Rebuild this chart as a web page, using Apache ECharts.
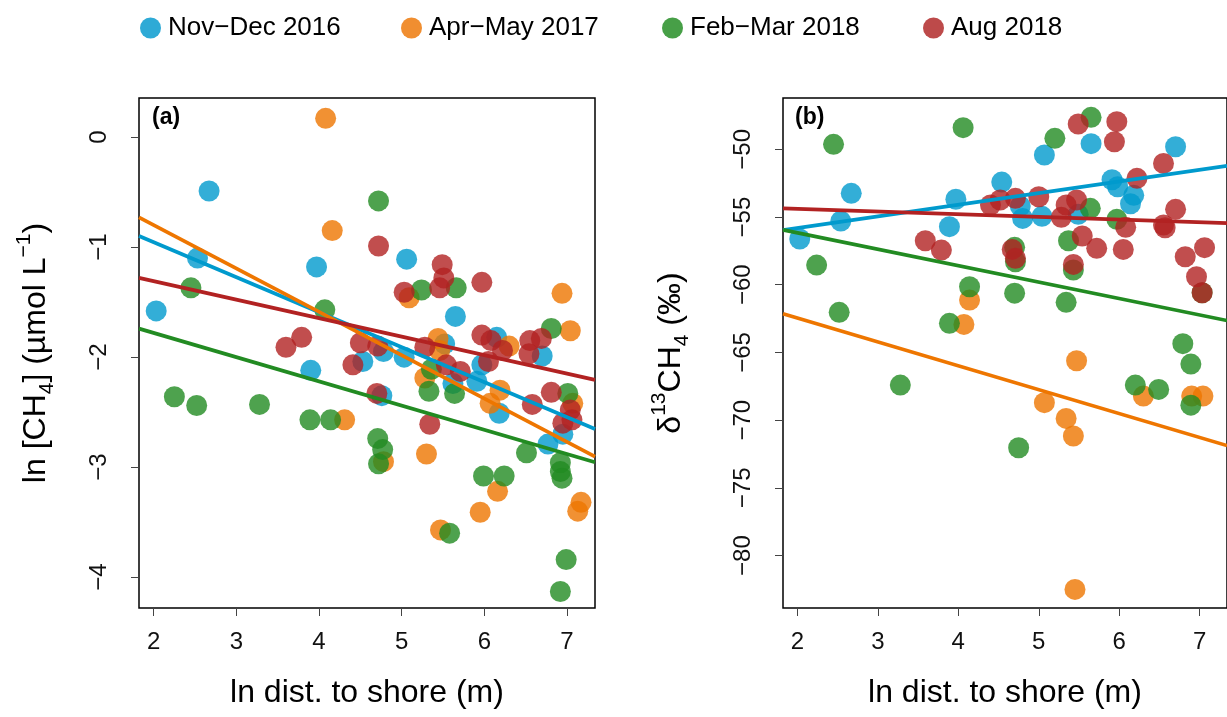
<!DOCTYPE html>
<html>
<head>
<meta charset="utf-8">
<script src="https://cdn.jsdelivr.net/npm/echarts@6/dist/echarts.min.js"></script>
<style>
  html, body { margin: 0; padding: 0; background: #fff; }
  #chart { width: 1227px; height: 717px; }
</style>
</head>
<body>
<div id="chart"></div>
<script>
// sampling campaigns
const campaigns = ['Nov−Dec 2016', 'Apr−May 2017', 'Feb−Mar 2018', 'Aug 2018'];
const baseColors = ['#009ACD', '#EE7600', '#228B22', '#B22222'];
const legendColors = ['#2eaad6', '#f08e30', '#479f47', '#bd4a4a'];

// axis ticks
const xTicks = [2, 3, 4, 5, 6, 7];
const yTicksA = [0, -1, -2, -3, -4];
const yTicksB = [-50, -55, -60, -65, -70, -75, -80];

// (a) ln [CH4] vs ln distance to shore
const ch4Nov16 = [[2.03,-1.58],[2.53,-1.10],[2.67,-0.49],[3.90,-2.12],[3.97,-1.18],[4.53,-2.04],[4.76,-2.35],[4.78,-1.95],[5.03,-2.00],[5.06,-1.11],[5.52,-1.88],[5.62,-2.24],[5.65,-1.63],[5.91,-2.22],[5.97,-2.07],[6.15,-1.82],[6.18,-2.51],[6.70,-1.99],[6.77,-2.79],[6.95,-2.70]];
const ch4Apr17 = [[4.08,0.17],[4.16,-0.85],[4.31,-2.57],[4.78,-2.95],[5.09,-1.46],[5.28,-2.19],[5.30,-2.88],[5.44,-1.83],[5.46,-1.94],[5.47,-3.57],[5.95,-3.41],[6.07,-2.42],[6.16,-3.22],[6.19,-2.30],[6.30,-1.90],[6.94,-1.42],[7.04,-1.76],[7.07,-2.42],[7.13,-3.40],[7.17,-3.32]];
const ch4Feb18 = [[2.25,-2.36],[2.45,-1.37],[2.52,-2.44],[3.28,-2.43],[3.89,-2.57],[4.07,-1.57],[4.14,-2.57],[4.72,-0.58],[4.71,-2.74],[4.77,-2.84],[4.72,-2.97],[5.24,-1.39],[5.36,-2.11],[5.33,-2.31],[5.58,-3.60],[5.64,-2.33],[5.66,-1.37],[5.99,-3.08],[6.24,-3.08],[6.51,-2.87],[6.81,-1.74],[7.01,-2.33],[6.92,-2.96],[6.92,-3.04],[6.94,-3.10],[6.99,-3.84],[6.92,-4.13]];
const ch4Aug18 = [[3.60,-1.91],[3.79,-1.82],[4.41,-2.07],[4.50,-1.87],[4.70,-2.33],[4.71,-1.90],[4.72,-0.99],[5.03,-1.41],[5.28,-1.91],[5.34,-2.61],[5.46,-1.37],[5.49,-1.16],[5.51,-1.28],[5.54,-2.07],[5.71,-2.13],[5.97,-1.32],[5.97,-1.80],[6.05,-2.04],[6.08,-1.85],[6.22,-1.94],[6.54,-1.97],[6.55,-1.85],[6.58,-2.43],[6.69,-1.83],[6.81,-2.32],[6.95,-2.60],[7.04,-2.48],[7.06,-2.57]];

// (b) d13C-CH4 vs ln distance to shore
const d13Nov16 = [[2.03,-56.62],[2.54,-55.30],[2.67,-53.25],[3.89,-55.71],[3.97,-53.69],[4.54,-52.42],[4.77,-54.19],[4.80,-55.10],[5.04,-54.95],[5.07,-50.42],[5.49,-54.80],[5.65,-49.58],[5.91,-52.25],[5.98,-52.76],[6.14,-54.02],[6.18,-53.40],[6.70,-49.81]];
const d13Apr17 = [[4.14,-61.13],[4.07,-62.93],[5.07,-68.71],[5.34,-69.87],[5.43,-71.17],[5.47,-65.61],[5.45,-82.50],[6.30,-68.22],[6.90,-68.22],[7.04,-68.22]];
const d13Feb18 = [[2.24,-58.55],[2.45,-49.63],[2.52,-62.04],[3.28,-67.41],[3.89,-62.85],[4.06,-48.40],[4.14,-60.15],[4.70,-57.24],[4.71,-58.30],[4.70,-60.62],[4.75,-72.04],[5.20,-49.19],[5.34,-61.30],[5.37,-56.75],[5.43,-58.91],[5.64,-54.36],[5.65,-47.64],[5.97,-55.17],[6.20,-67.41],[6.49,-67.73],[6.79,-64.35],[6.89,-65.86],[6.89,-68.89],[7.03,-60.59]];
const d13Aug18 = [[3.59,-56.75],[3.79,-57.44],[4.40,-54.11],[4.52,-53.74],[4.67,-57.39],[4.71,-53.62],[4.71,-58.05],[5.00,-53.50],[5.28,-55.02],[5.34,-54.11],[5.43,-58.50],[5.47,-53.74],[5.49,-48.13],[5.54,-56.40],[5.72,-57.31],[5.94,-49.44],[5.97,-47.96],[6.05,-57.39],[6.08,-55.76],[6.22,-52.14],[6.55,-51.04],[6.55,-55.59],[6.57,-55.79],[6.70,-54.43],[6.82,-57.93],[6.96,-59.41],[7.03,-60.59],[7.06,-57.26]];

// fitted lines (intercept, slope) per campaign
const fitInterceptA = [-0.32, -0.013, -1.34, -0.974];
const fitSlopeA = [-0.318, -0.394, -0.220, -0.168];
const fitInterceptB = [-57.54, -58.93, -53.74, -54.0];
const fitSlopeB = [0.862, -1.764, -1.213, -0.197];

const xRange = [1.822, 7.339];
const yRangeA = [-4.28, 0.355];
const yRangeB = [-83.87, -46.21];

const pointsA = [ch4Nov16, ch4Apr17, ch4Feb18, ch4Aug18];
const pointsB = [d13Nov16, d13Apr17, d13Feb18, d13Aug18];

const FONT = 'Liberation Sans, Arial, Helvetica, sans-serif';
const minusFmt = v => String(v).replace('-', '\u2212');

const chart = echarts.init(document.getElementById('chart'));

function makeXAxis(gridIndex) {
  return {
    type: 'value', gridIndex: gridIndex,
    min: xRange[0], max: xRange[1],
    name: 'ln dist. to shore (m)', nameLocation: 'middle', nameGap: 69,
    nameTextStyle: { fontSize: 32, color: '#000', fontFamily: FONT },
    axisLine: { show: false, onZero: false },
    axisTick: { show: true, length: 8, customValues: xTicks, lineStyle: { color: '#444', width: 1 } },
    axisLabel: { customValues: xTicks, fontSize: 24, color: '#111', fontFamily: FONT, margin: 22, formatter: minusFmt },
    splitLine: { show: false }
  };
}

function makeYAxis(gridIndex, range, ticks, name, gap) {
  return {
    type: 'value', gridIndex: gridIndex,
    min: range[0], max: range[1],
    name: name, nameLocation: 'middle', nameGap: gap, nameRotate: 90,
    nameTextStyle: {
      fontSize: 32, color: '#000', fontFamily: FONT,
      rich: {
        n: { fontSize: 32, color: '#000', fontFamily: FONT, lineHeight: 44, verticalAlign: 'middle' },
        sub: { fontSize: 21, color: '#000', fontFamily: FONT, lineHeight: 22, verticalAlign: 'bottom' },
        sup: { fontSize: 21, color: '#000', fontFamily: FONT, lineHeight: 22, verticalAlign: 'top' }
      }
    },
    axisLine: { show: false, onZero: false },
    axisTick: { show: true, length: 8, customValues: ticks, lineStyle: { color: '#444', width: 1 } },
    axisLabel: { customValues: ticks, rotate: 90, fontSize: 24, color: '#111', fontFamily: FONT, margin: 28, formatter: minusFmt },
    splitLine: { show: false }
  };
}

const series = [];
[pointsA, pointsB].forEach((panel, p) => {
  panel.forEach((pts, i) => {
    series.push({
      name: campaigns[i], type: 'scatter', xAxisIndex: p, yAxisIndex: p,
      data: pts, symbol: 'circle', symbolSize: 21,
      itemStyle: { color: baseColors[i], opacity: 0.8 },
      emphasis: { disabled: true }, z: 2
    });
  });
});
[[fitInterceptA, fitSlopeA], [fitInterceptB, fitSlopeB]].forEach((fit, p) => {
  fit[0].forEach((a, i) => {
    const b = fit[1][i];
    series.push({
      name: campaigns[i], type: 'line', xAxisIndex: p, yAxisIndex: p,
      data: [[xRange[0], a + b * xRange[0]], [xRange[1], a + b * xRange[1]]],
      showSymbol: false, symbol: 'none', clip: true,
      lineStyle: { color: baseColors[i], width: 3.7 },
      emphasis: { disabled: true }, z: 3
    });
  });
});

const legendLeft = [135, 396, 657, 918];

chart.setOption({
  animation: false,
  backgroundColor: '#fff',
  legend: campaigns.map((c, i) => ({
    data: [{ name: c, icon: 'circle', itemStyle: { color: legendColors[i], opacity: 1 } }],
    left: legendLeft[i], top: 10,
    itemWidth: 21, itemHeight: 23,
    selectedMode: false,
    textStyle: { fontSize: 26, color: '#000', fontFamily: FONT, padding: [0, 0, 0, 2] }
  })),
  grid: [
    { left: 139, top: 98, width: 456, height: 510, show: true, borderColor: '#000', borderWidth: 1.5, backgroundColor: 'transparent' },
    { left: 783, top: 98, width: 456, height: 510, show: true, borderColor: '#000', borderWidth: 1.5, backgroundColor: 'transparent' }
  ],
  xAxis: [makeXAxis(0), makeXAxis(1)],
  yAxis: [
    makeYAxis(0, yRangeA, yTicksA, '{n|ln [CH}{sub|4}{n|] (µmol L}{sup|\u22121}{n|)}', 81),
    makeYAxis(1, yRangeB, yTicksB, '{n|δ}{sup|13}{n|CH}{sub|4}{n| (‰)}', 90)
  ],
  graphic: [
    { type: 'text', left: 152, top: 106, style: { text: '(a)', font: 'bold 23px ' + FONT, fill: '#000' } },
    { type: 'text', left: 795, top: 106, style: { text: '(b)', font: 'bold 23px ' + FONT, fill: '#000' } }
  ],
  series: series
});
</script>
</body>
</html>
